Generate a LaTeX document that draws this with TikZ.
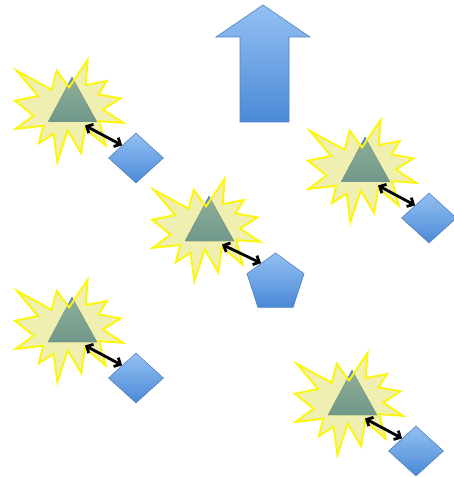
\documentclass[tikz,border=0pt]{standalone}
\usetikzlibrary{shapes.geometric,arrows.meta,calc}
\definecolor{blueT}{RGB}{148,192,243}
\definecolor{blueB}{RGB}{74,138,214}
\definecolor{blueE}{RGB}{82,128,192}
\definecolor{triT}{RGB}{95,150,215}
\definecolor{triB}{RGB}{45,110,190}
\definecolor{starfill}{RGB}{214,214,60}
\definecolor{staredge}{RGB}{252,246,10}
\tikzset{
  bluebox/.style={draw=blueE, line width=0.6pt, top color=blueT, bottom color=blueB},
  gemnode/.style={bluebox, shape=diamond, minimum width=55pt, minimum height=50pt, inner sep=0pt},
  pentnode/.style={bluebox, regular polygon, regular polygon sides=5, minimum size=60pt, inner sep=0pt},
  trishape/.style={top color=triT, bottom color=triB, draw=none},
  starshape/.style={fill=starfill, fill opacity=0.4, draw=staredge, line width=1.9pt, line join=miter},
  link/.style={{Straight Barb[length=5pt,width=10pt]}-{Straight Barb[length=5pt,width=10pt]}, line width=2.8pt, black},
}
\newcommand\starburst{%
  \draw[starshape] (54,27.4) -- (72.6,0) -- (70.8,25.1) -- (91.9,21.0) -- (83.5,34.5) -- (105.5,38.4)
   -- (88.0,49.5) -- (108,62.8) -- (84.2,61.1) -- (90.7,85.5) -- (70.1,68.3) -- (66.2,93.2)
   -- (52.7,70.5) -- (42.4,102) -- (38.6,73.8) -- (23.8,83.2) -- (28.3,65.8) -- (0.7,68.9)
   -- (18.6,55.6) -- (0,40.7) -- (23.1,36.0) -- (1.9,10.8) -- (36.6,29.8) -- (41.8,10.8) -- cycle;}
\newcommand\triangleshape[1]{%
  \coordinate (#1top) at (57,17);
  \coordinate (#1bl) at (33,62);
  \coordinate (#1br) at (82,62);
  \coordinate (#1s) at (70,65.5);
  \fill[trishape] (#1top) -- (#1br) -- (#1bl) -- cycle;}
% #1 name, #2 origin
\newcommand\gemunit[2]{%
  \begin{scope}[shift={#2}]
    \triangleshape{#1}
    \starburst
    \node[gemnode] (#1d) at (121,98) {};
    \draw[link] (#1s) -- (#1d.north west);
  \end{scope}}
\begin{document}
\begin{tikzpicture}[x=1pt,y=-1pt]
  \useasboundingbox (0,0) rectangle (453,478);
  % up arrow
  \draw[bluebox] (263,5) -- (310,37) -- (289,37) -- (289,122) -- (240,122) -- (240,37) -- (216,37) -- cycle;
  \gemunit{a}{(15,60)}
  \gemunit{c}{(308,120)}
  \gemunit{d}{(15,280)}
  \gemunit{e}{(295,353)}
  \begin{scope}[shift={(152,179)}]
    \triangleshape{b}
    \starburst
    \node[pentnode] (bp) at (123.5,104) {};
    \draw[link] (bs) -- (bp.side 1);
  \end{scope}
\end{tikzpicture}
\end{document}
